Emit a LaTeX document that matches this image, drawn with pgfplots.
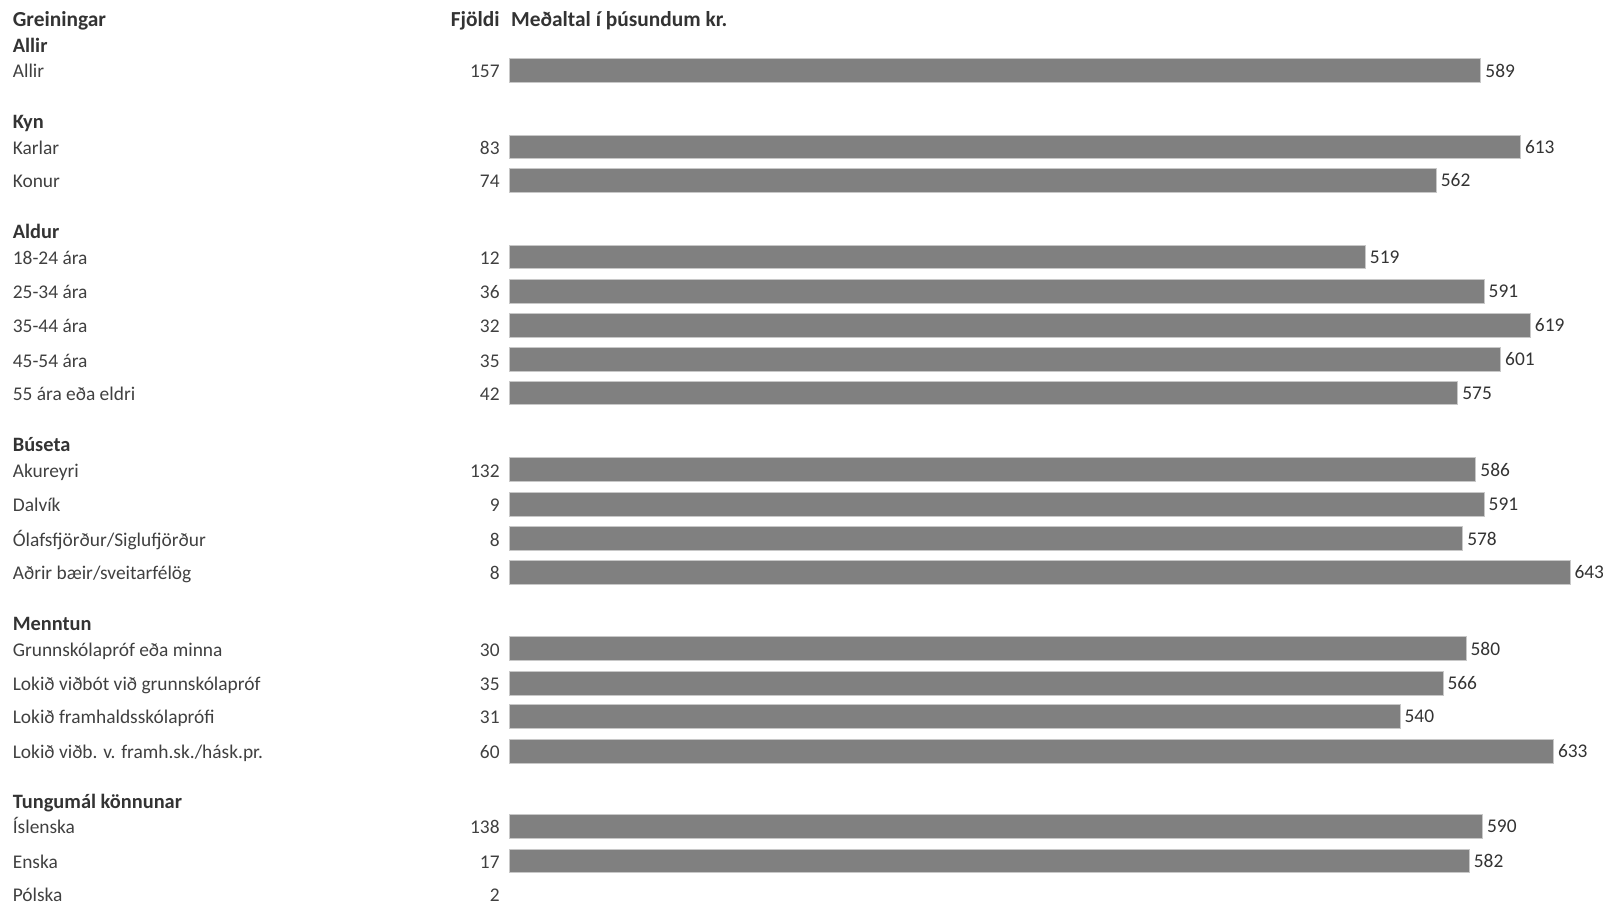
\documentclass[border=0pt]{standalone}
\usepackage{pgfplots}
\pgfplotsset{compat=1.18}
\usepackage{fontspec}
\setmainfont{Carlito}
\definecolor{barc}{HTML}{808080}
\definecolor{barl}{HTML}{C8C8C8}
\definecolor{labc}{HTML}{404040}
\definecolor{hdc}{HTML}{333333}
\newcommand{\fs}{\fontsize{9.7}{11}\selectfont}
\newcommand{\fh}{\fontsize{10.2}{12}\selectfont\bfseries}
\newcommand{\ft}{\fontsize{10.7}{12}\selectfont\bfseries}
\newcommand{\rowlab}[3]{%
  \node[anchor=base west, inner sep=0pt, text=labc, font=\fs] at (axis cs:-301.2,#1) {#2};
  \node[anchor=base east, inner sep=0pt, text=labc, font=\fs] at (axis cs:-5.64,#1) {#3};
}
\newcommand{\grp}[2]{%
  \node[anchor=base west, inner sep=0pt, text=hdc, font=\fh] at (axis cs:-301.2,#1) {#2};
}
\begin{document}
\begin{tikzpicture}
\begin{axis}[
  scale only axis, width=801.5pt, height=452pt,
  xmin=-308.74, xmax=663.0, ymin=0, ymax=904, y dir=reverse,
  axis lines=none, clip=false,
  xbar, bar width=11.9pt, bar shift=0pt,
  /pgf/number format/assume math mode=true,
  nodes near coords,
  nodes near coords style={anchor=west, xshift=2pt, inner sep=0pt, font=\fs, text=hdc},
]
\addplot[fill=barc, draw=barl, line width=0.5pt] table {
x y
589 70.5
613 147
562 180.5
519 257
591 291.3
619 325.2
601 359.5
575 393
586 469.5
591 504.3
578 538.5
643 572.3
580 648.7
566 683.2
540 716.3
633 751.2
590 826.3
582 861
};
% top header
\node[anchor=base west, inner sep=0pt, text=hdc, font=\ft] at (axis cs:-301.2,26.5) {Greiningar};
\node[anchor=base east, inner sep=0pt, text=hdc, font=\ft] at (axis cs:-5.64,26.5) {Fjöldi};
\node[anchor=base west, inner sep=0pt, text=hdc, font=\ft] at (axis cs:0.85,26.5) {Meðaltal í þúsundum kr.};
% groups
\grp{52.5}{Allir}
\rowlab{78}{Allir}{157}
\grp{129}{Kyn}
\rowlab{154.5}{Karlar}{83}
\rowlab{188}{Konur}{74}
\grp{239}{Aldur}
\rowlab{264.5}{18-24 ára}{12}
\rowlab{298.8}{25-34 ára}{36}
\rowlab{332.7}{35-44 ára}{32}
\rowlab{367}{45-54 ára}{35}
\rowlab{400.5}{55 ára eða eldri}{42}
\grp{451.5}{Búseta}
\rowlab{477}{Akureyri}{132}
\rowlab{511.8}{Dalvík}{9}
\rowlab{546}{Ólafsfjörður/Siglufjörður}{8}
\rowlab{579.8}{Aðrir bæir/sveitarfélög}{8}
\grp{630.5}{Menntun}
\rowlab{656.2}{Grunnskólapróf eða minna}{30}
\rowlab{690.7}{Lokið viðbót við grunnskólapróf}{35}
\rowlab{723.8}{Lokið framhaldsskólaprófi}{31}
\rowlab{758.7}{Lokið viðb. v. framh.sk./hásk.pr.}{60}
\grp{808.5}{Tungumál könnunar}
\rowlab{833.8}{Íslenska}{138}
\rowlab{868.5}{Enska}{17}
\rowlab{901.5}{Pólska}{2}
\end{axis}
\pgfresetboundingbox
\path (current axis.south west) rectangle (current axis.north east);
\end{tikzpicture}
\end{document}
